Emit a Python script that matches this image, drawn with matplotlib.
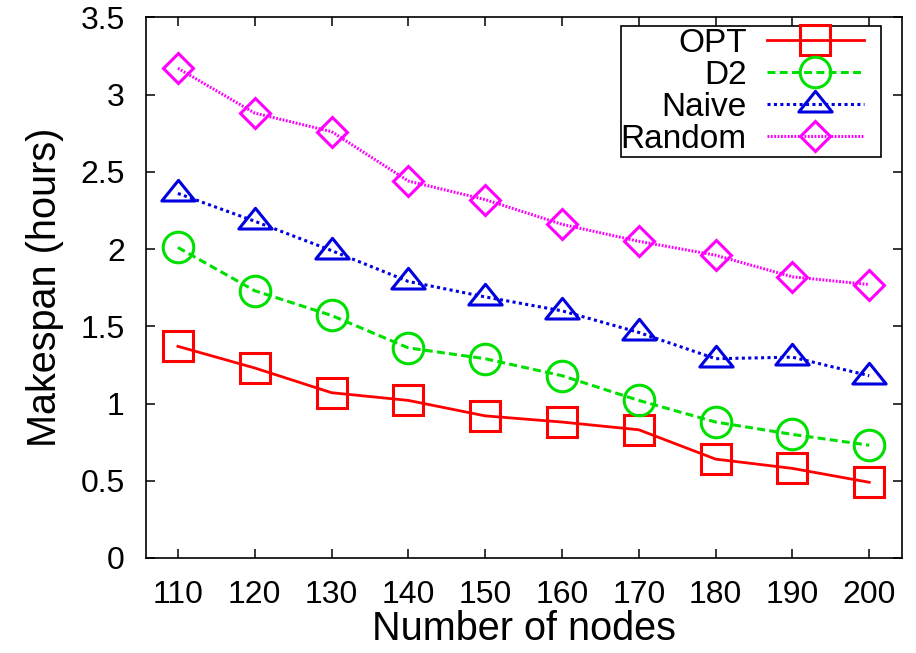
import matplotlib
matplotlib.use("Agg")
import matplotlib.pyplot as plt
from matplotlib.path import Path
from matplotlib.patches import Rectangle

plt.rcParams['font.family'] = ['Liberation Sans', 'DejaVu Sans']

nodes = [110, 120, 130, 140, 150, 160, 170, 180, 190, 200]
opt = [1.37, 1.23, 1.07, 1.02, 0.92, 0.88, 0.83, 0.64, 0.58, 0.49]
d2 = [2.01, 1.73, 1.57, 1.36, 1.29, 1.18, 1.02, 0.88, 0.80, 0.73]
naive = [2.36, 2.18, 1.99, 1.79, 1.69, 1.60, 1.46, 1.29, 1.30, 1.18]
rand = [3.17, 2.88, 2.76, 2.44, 2.32, 2.16, 2.05, 1.96, 1.82, 1.77]
yticks = [0, 0.5, 1, 1.5, 2, 2.5, 3, 3.5]
ytick_labels = ['0', '0.5', '1', '1.5', '2', '2.5', '3', '3.5']

# gnuplot-style flat triangle, data point sits below the centre
tri = Path([(-1, -0.45), (1, -0.45), (0, 0.79), (-1, -0.45)],
           [Path.MOVETO, Path.LINETO, Path.LINETO, Path.CLOSEPOLY])

fig = plt.figure(figsize=(9.16, 6.53), dpi=100)
ax = fig.add_axes([0.159, 0.1455, 0.826, 0.828])

lw = 2.0
mew = 2.2
ax.plot(nodes, opt, color='#ff0000', linestyle='-', linewidth=lw, marker='s',
        markersize=21, markerfacecolor='none', markeredgewidth=mew, label='OPT')
ax.plot(nodes, d2, color='#00e000', linestyle=(0, (2.6, 1.4)), linewidth=lw + 0.2, marker='o',
        markersize=22, markerfacecolor='none', markeredgewidth=mew, label='D2')
ax.plot(nodes, naive, color='#0000e0', linestyle=(0, (1, 1.1)), linewidth=lw + 0.2, marker=tri,
        markersize=24, markerfacecolor='none', markeredgewidth=mew, label='Naive')
ax.plot(nodes, rand, color='#ff00ff', linestyle=(0, (0.6, 0.5)), linewidth=lw + 0.2, marker='D',
        markersize=15.5, markerfacecolor='none', markeredgewidth=mew, label='Random')

ax.set_xlim(105.8, 204.3)
ax.set_ylim(0, 3.5)
ax.set_xticks(nodes)
ax.set_yticks(yticks)
ax.set_yticklabels(ytick_labels)
ax.tick_params(direction='in', top=True, right=True, length=6.5, width=1.1,
               labelsize=23, pad=15)
ax.tick_params(axis='x', pad=16)
for s in ax.spines.values():
    s.set_linewidth(1.2)

ax.set_xlabel('Number of nodes', fontsize=28.5, labelpad=0)
ax.set_ylabel('Makespan (hours)', fontsize=28.5, labelpad=12)

leg = ax.legend(loc='upper right', markerfirst=False, fontsize=24, frameon=False,
                handlelength=2.9, borderpad=0.05, labelspacing=0.03, handletextpad=0.6,
                borderaxespad=0, bbox_to_anchor=(0.951, 0.983))
for t in leg.get_texts():
    t.set_ha('right')
leg._legend_box.align = 'right'

# frame with a bit of room on the right, like gnuplot's key box
fig.canvas.draw()
bb = leg.get_window_extent().transformed(ax.transAxes.inverted())
ax.add_patch(Rectangle((bb.x0 + 0.002, bb.y0), bb.width + 0.021 - 0.002, bb.height,
                       transform=ax.transAxes, fill=False, edgecolor='black',
                       linewidth=1.2, zorder=5))

fig.savefig('out.png', dpi=100)
